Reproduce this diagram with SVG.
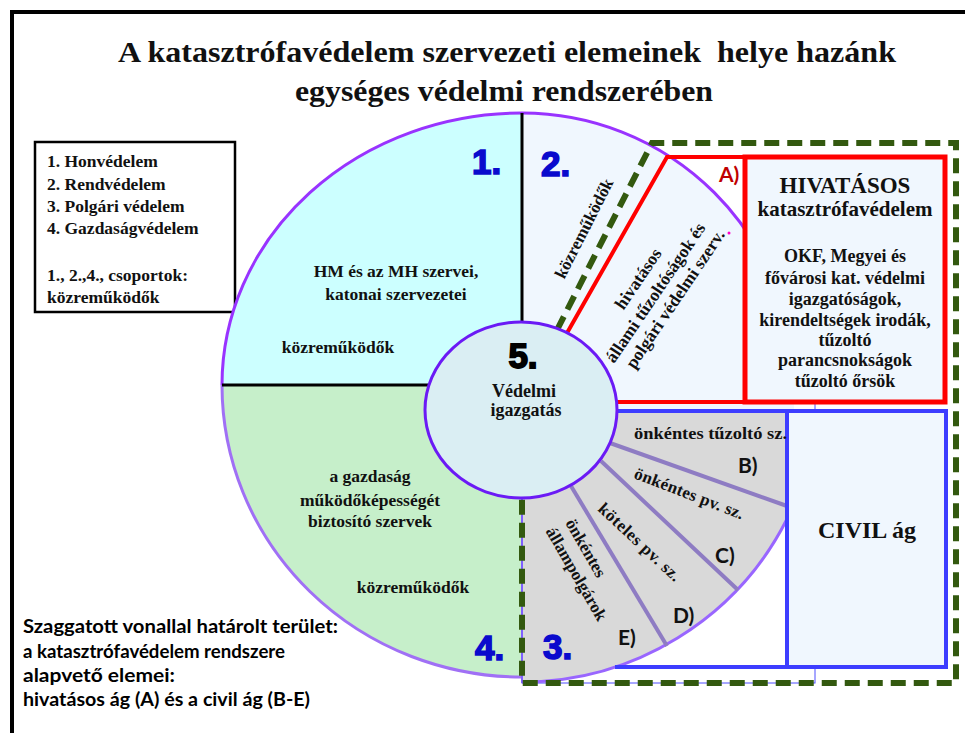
<svg xmlns="http://www.w3.org/2000/svg" width="965" height="733" viewBox="0 0 965 733">
<style>
.t{font-family:"Liberation Serif","Times New Roman",serif;font-weight:bold;fill:#111}
.s{font-family:Lato,"Liberation Sans",sans-serif;font-weight:bold}
.num{font-family:"Liberation Sans",Arial,sans-serif;font-weight:bold;font-size:35px;fill:#0A0ACD;stroke:#0A0ACD;stroke-width:1.6}
.lbl{font-family:Lato,"Liberation Sans",sans-serif;font-weight:bold;font-size:21px;fill:#111}
.mid{text-anchor:middle}
.arc{fill:none;stroke-width:3}
.sep{stroke:#8E7CC3;stroke-width:4;fill:none}
</style>
<rect width="965" height="733" fill="#fff"/>
<path d="M12,733 L12,12 L965,12" fill="none" stroke="#000" stroke-width="4"/>

<g id="title">
<text class="t mid" x="507" y="62" font-size="30" textLength="778" lengthAdjust="spacingAndGlyphs" style="white-space:pre">A katasztrófavédelem szervezeti elemeinek  helye hazánk</text>
<text class="t mid" x="504" y="101" font-size="30" textLength="418" lengthAdjust="spacingAndGlyphs">egységes védelmi rendszerében</text>
</g>

<g id="legend">
<rect x="35" y="142" width="200" height="170" fill="#fff" stroke="#000" stroke-width="2.5"/>
<text class="t" font-size="17.5" x="47" y="167">1. Honvédelem</text>
<text class="t" font-size="17.5" x="47" y="190">2. Rendvédelem</text>
<text class="t" font-size="17.5" x="47" y="212">3. Polgári védelem</text>
<text class="t" font-size="17.5" x="47" y="234">4. Gazdaságvédelem</text>
<text class="t" font-size="17.5" x="47" y="281">1., 2.,4., csoportok:</text>
<text class="t" font-size="17.5" x="47" y="303">közreműködők</text>
</g>

<rect x="522" y="385" width="293" height="298" fill="none" stroke="#4F4FFF" stroke-width="1"/>

<g id="q1">
<path d="M522,385 L222,385 A300,272 0 0 1 522,113 Z" fill="#CCFFFF"/>
<path class="arc" d="M222,385 A300,272 0 0 1 522,113" stroke="#9933FF"/>
<text class="t mid" font-size="17.5" x="396" y="277">HM és az MH szervei,</text>
<text class="t mid" font-size="17.5" x="396" y="300">katonai szervezetei</text>
<text class="t mid" font-size="17.5" x="338" y="353">közreműködők</text>
<text class="num" x="472" y="174">1.</text>
</g>

<g id="q4">
<path d="M522,385 L222,385 A300,292 0 0 0 522,677 Z" fill="#C6EFCA"/>
<path class="arc" d="M222,385 A300,292 0 0 0 522,677" stroke="#A070F5"/>
<text class="t mid" font-size="17.5" x="370" y="482">a gazdaság</text>
<text class="t mid" font-size="17.5" x="370" y="506">működőképességét</text>
<text class="t mid" font-size="17.5" x="370" y="527">biztosító szervek</text>
<text class="t mid" font-size="17.5" x="413" y="593">közreműködők</text>
<text class="num" x="475" y="660">4.</text>
</g>

<g id="q2">
<path d="M522,411 L522,113 A272,272 0 0 1 794,385 L794,411 Z" fill="#F0F7FE"/>
<path class="arc" d="M522,113 A272,272 0 0 1 794,385" stroke="#9933FF"/>
</g>

<g id="q3">
<path d="M522,411 L787,411 L787,519 A297,297 0 0 1 522,682 Z" fill="#D9D9D9"/>
<path class="arc" d="M787,519 A297,297 0 0 1 522,682" stroke="#9966FF"/>
</g>

<g id="connectors">
<path class="sep" d="M610,443 L787,506"/>
<path class="sep" d="M601,461 L738,590"/>
<path class="sep" d="M571,486 L667,646"/>
<path d="M522,113 L522,324" stroke="#000" stroke-width="3"/>
<path d="M222,385 L428,385" stroke="#000" stroke-width="3"/>
<path d="M522,498 L522,683" stroke="#7F5FFF" stroke-width="2"/>
</g>

<g id="civil">
<path d="M600,411 L946,411 L946,667 L615,667" fill="none" stroke="#3D3DFF" stroke-width="4"/>
<rect x="787" y="411" width="159" height="256" fill="#F0F7FE" stroke="#3D3DFF" stroke-width="4"/>
<text class="t mid" font-size="24" x="867" y="538">CIVIL ág</text>
</g>

<g id="a-region">
<path d="M567,333 L667,157 L945,157 L945,402 L600,402" fill="none" stroke="#FF0000" stroke-width="4"/>
<text class="lbl" x="719" y="182" style="fill:#C00000">A)</text>
</g>

<g id="hivatasos">
<rect x="745" y="157" width="200" height="245" fill="#F0F7FE" stroke="#FF0000" stroke-width="5"/>
<text class="t mid" font-size="23" x="845" y="193">HIVATÁSOS</text>
<text class="t mid" font-size="21" x="845" y="216">katasztrófavédelem</text>
<text class="t mid" font-size="18" x="845" y="262">OKF, Megyei és</text>
<text class="t mid" font-size="18" x="845" y="284">fővárosi kat. védelmi</text>
<text class="t mid" font-size="18" x="845" y="305">igazgatóságok,</text>
<text class="t mid" font-size="18" x="845" y="326">kirendeltségek irodák,</text>
<text class="t mid" font-size="18" x="845" y="346">tűzoltó</text>
<text class="t mid" font-size="18" x="845" y="366">parancsnokságok</text>
<text class="t mid" font-size="18" x="845" y="387">tűzoltó őrsök</text>
</g>

<g id="dashed-border">
<path d="M557,330 L652,143 L956,143 L956,683 L522,683 L522,498" fill="none" stroke="#33590F" stroke-width="6" stroke-dasharray="15 8"/>
</g>

<g id="q2-text">
<text class="t mid" font-size="17" transform="translate(589,231) rotate(-63)">közreműködők</text>
<g transform="translate(660,296) rotate(-56)">
<text class="t mid" font-size="17.5" x="2" y="-22">hivatásos</text>
<text class="t mid" font-size="17.5" x="0" y="0">állami tűzoltóságok és</text>
<text class="t mid" font-size="17.5" x="6" y="20">polgári védelmi szerv.</text>
</g>
<circle cx="729" cy="233" r="1.5" fill="#FF00CC"/>
<text class="num" x="541" y="176">2.</text>
</g>

<g id="q3-text">
<text class="t" font-size="16" x="634" y="439" textLength="153" lengthAdjust="spacingAndGlyphs">önkéntes tűzoltó sz.</text>
<text class="lbl" x="738" y="473">B)</text>
<text class="t" font-size="17" transform="translate(633,478) rotate(21)" textLength="116" lengthAdjust="spacing">önkéntes pv. sz.</text>
<text class="lbl" x="715" y="563">C)</text>
<text class="t" font-size="17" transform="translate(597,510) rotate(43)" textLength="106" lengthAdjust="spacing">köteles pv. sz.</text>
<text class="lbl" x="673" y="623">D)</text>
<g transform="translate(565,523) rotate(60)">
<text class="t" font-size="17" x="0" y="0">önkéntes</text>
<text class="t" font-size="17" x="-3" y="21">állampolgárok</text>
</g>
<text class="lbl" x="618" y="645">E)</text>
<text class="num" x="543" y="659">3.</text>
</g>

<g id="center">
<ellipse cx="521" cy="410" rx="96" ry="88" fill="#DAEEF3" stroke="#6B1AF5" stroke-width="3"/>
<text class="mid" x="523" y="368" font-family="Liberation Sans,Arial,sans-serif" font-weight="bold" font-size="35" fill="#000" stroke="#000" stroke-width="1.8">5.</text>
<text class="t mid" font-size="18" x="524" y="397">Védelmi</text>
<text class="t mid" font-size="18" x="526" y="416">igazgatás</text>
</g>

<g id="note">
<text class="s" font-size="18" x="23" y="633" textLength="315" lengthAdjust="spacingAndGlyphs">Szaggatott vonallal határolt terület:</text>
<text class="s" font-size="18" x="23" y="658" textLength="262" lengthAdjust="spacingAndGlyphs">a katasztrófavédelem rendszere</text>
<text class="s" font-size="18" x="23" y="682" textLength="152" lengthAdjust="spacingAndGlyphs">alapvető elemei:</text>
<text class="s" font-size="18" x="23" y="706" textLength="287" lengthAdjust="spacingAndGlyphs">hivatásos ág (A) és a civil ág (B-E)</text>
</g>
</svg>
